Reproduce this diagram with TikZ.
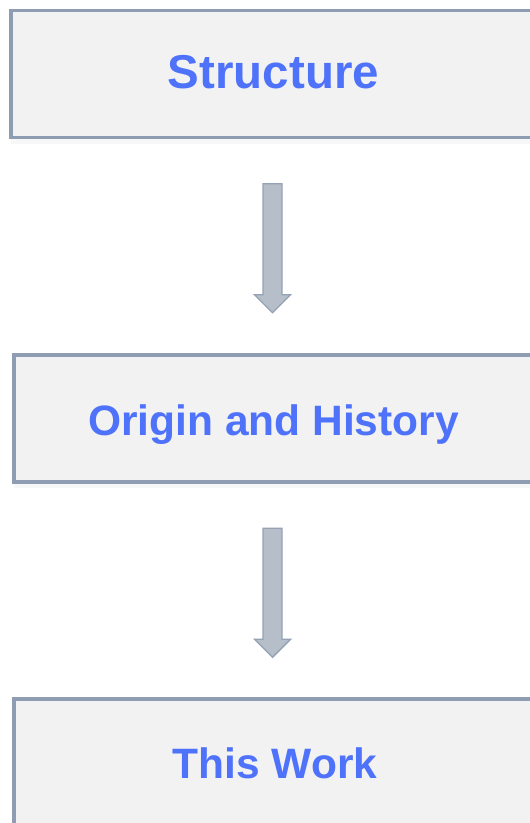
\documentclass[tikz,border=0pt]{standalone}
\usepackage{fontspec}
\setmainfont{Liberation Sans}
\usetikzlibrary{calc,shadows}
\definecolor{boxfill}{HTML}{F2F2F2}
\definecolor{boxline}{HTML}{8F9DB3}
\definecolor{txtblue}{HTML}{4F72FA}
\definecolor{arrfill}{HTML}{B5BEC9}
\definecolor{arrline}{HTML}{95A2B4}
\tikzset{
  stagebox/.style={draw=boxline, line width=3.5pt, fill=boxfill,
    minimum height=127pt, inner sep=0pt, text=txtblue,
    text height=30.5pt, text depth=0pt,
    font=\bfseries\fontsize{42.5}{46}\selectfont,
    drop shadow={opacity=0.06, shadow xshift=0pt, shadow yshift=-6pt}},
  blockarrow/.style={draw=arrline, line width=1.4pt, fill=arrfill, line join=miter}
}
\begin{document}
\begin{tikzpicture}[x=1pt,y=-1pt]
\useasboundingbox (0,0) rectangle (530,823);
\clip (0,0) rectangle (530,823);
\fill[white] (0,0) rectangle (530,823);
\node[stagebox, minimum width=525pt, text height=34pt, font=\bfseries\fontsize{47.5}{50}\selectfont] (s) at (273.5,74) {};
\node[text=txtblue, font=\bfseries\fontsize{47.5}{50}\selectfont, inner sep=0pt, text height=34pt, text depth=0pt] (st) at (273.5,71) {Structure};
\node[stagebox, minimum width=519pt] (o) at (273.5,418.5) {};
\node[text=txtblue, font=\bfseries\fontsize{42.5}{46}\selectfont, inner sep=0pt, text height=30.5pt, text depth=0pt] (ot) at (273.5,420) {Origin and History};
\node[stagebox, minimum width=519pt] (w) at (273.5,762.5) {};
\node[text=txtblue, font=\bfseries\fontsize{42.5}{46}\selectfont, inner sep=0pt, text height=30.5pt, text depth=0pt] (wt) at (275,763) {This Work};
% block arrows between the boxes
\coordinate (a1) at ($(s.south)+(-1,44.5)$);
\coordinate (b1) at ($(o.south)+(-1,44.5)$);
\draw[blockarrow] ($(a1)+(-9.5,0)$) -- ($(a1)+(9.5,0)$) -- ($(a1)+(9.5,111)$) -- ($(a1)+(18,111)$)
  -- ($(a1)+(0,129)$) -- ($(a1)+(-18,111)$) -- ($(a1)+(-9.5,111)$) -- cycle;
\draw[blockarrow] ($(b1)+(-9.5,0)$) -- ($(b1)+(9.5,0)$) -- ($(b1)+(9.5,111)$) -- ($(b1)+(18,111)$)
  -- ($(b1)+(0,129)$) -- ($(b1)+(-18,111)$) -- ($(b1)+(-9.5,111)$) -- cycle;
\end{tikzpicture}
\end{document}
